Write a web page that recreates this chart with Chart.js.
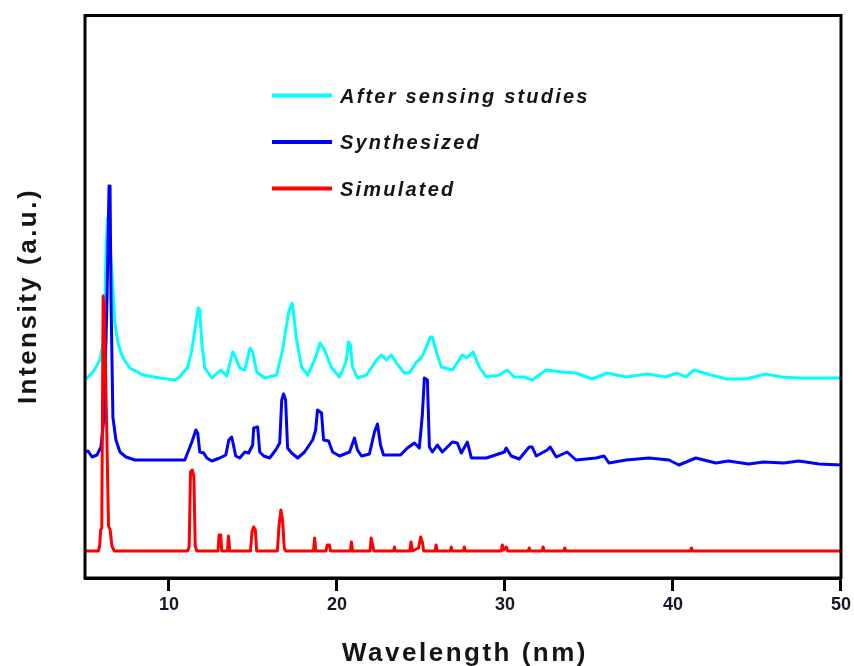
<!DOCTYPE html>
<html><head><meta charset="utf-8">
<script src="https://cdn.jsdelivr.net/npm/chart.js@4.4.1/dist/chart.umd.min.js"></script>
<style>html,body{margin:0;padding:0;background:#fff;}#wrap{width:854px;height:666px;}</style>
</head><body><div id="wrap"><canvas id="c" width="854" height="666"></canvas></div>
<script>
const xTicks = [10, 20, 30, 40, 50];
const seriesLabels = ['After sensing studies', 'Synthesized', 'Simulated'];
const seriesColors = ['#00FFFF', '#0000FF', '#FF0000'];
const xTitle = 'Wavelength (nm)';
const yTitle = 'Intensity (a.u.)';

const afterSensing = [[5.0,198],[5.48,206],[5.89,218],[6.07,235],[6.19,278],[6.25,328],[6.34,360],[6.43,358],[6.52,328],[6.6,306],[6.78,255],[6.96,235],[7.26,220],[7.67,210],[8.45,203],[9.46,200],[10.35,198],[10.64,201],[11.12,211],[11.36,228],[11.54,248],[11.74,270],[11.83,268],[11.95,235],[12.13,210],[12.55,200],[13.08,208],[13.44,202],[13.79,226],[13.97,220],[14.21,210],[14.51,208],[14.83,230],[14.98,226],[15.22,206],[15.7,200],[16.41,203],[16.76,228],[17.12,266],[17.33,275],[17.42,263],[17.6,238],[17.89,211],[18.25,203],[18.67,218],[18.99,235],[19.26,228],[19.68,210],[20.15,201],[20.54,216],[20.69,236],[20.8,233],[20.92,211],[21.22,200],[21.76,203],[22.35,218],[22.65,223],[22.94,218],[23.24,223],[23.54,215],[24.01,205],[24.31,205],[24.73,216],[25.02,220],[25.32,231],[25.56,241],[25.68,241],[25.92,226],[26.21,211],[26.87,208],[27.46,223],[27.7,220],[28.11,226],[28.47,211],[28.89,201],[29.66,203],[30.13,208],[30.55,201],[31.14,201],[31.62,198],[32.45,208],[33.4,206],[34.23,205],[35.18,199],[36.08,205],[37.2,201],[38.45,204],[39.58,201],[40.23,205],[40.77,201],[41.25,208],[42.26,203],[43.21,199],[44.33,199],[45.52,204],[46.47,201],[47.48,200],[50,200]];

const synthesized = [[5.0,126],[5.18,127],[5.42,121],[5.71,123],[5.95,131],[6.13,161],[6.31,278],[6.43,392],[6.49,392],[6.55,278],[6.66,161],[6.84,138],[7.08,126],[7.44,121],[7.97,118],[10.94,118],[11.36,136],[11.6,148],[11.71,145],[11.83,126],[12.07,125],[12.25,120],[12.55,117],[13.02,120],[13.38,123],[13.56,138],[13.73,141],[13.85,132],[13.97,122],[14.21,120],[14.51,126],[14.74,125],[14.98,133],[15.04,150],[15.28,151],[15.4,126],[15.64,122],[15.99,120],[16.35,128],[16.59,135],[16.71,178],[16.82,184],[16.94,178],[17.06,130],[17.3,125],[17.66,120],[18.07,126],[18.55,138],[18.73,148],[18.84,168],[19.08,165],[19.2,138],[19.5,137],[19.74,126],[20.15,122],[20.75,126],[21.04,140],[21.22,128],[21.46,122],[21.93,124],[22.23,146],[22.41,154],[22.59,133],[22.77,123],[23.42,123],[23.78,123],[24.19,130],[24.61,135],[24.9,130],[25.08,163],[25.2,200],[25.38,198],[25.5,131],[25.68,126],[25.97,133],[26.27,126],[26.87,136],[27.16,135],[27.4,125],[27.76,136],[28.0,120],[28.89,120],[29.96,126],[30.07,130],[30.37,122],[30.85,119],[31.44,131],[31.62,131],[31.86,122],[32.51,128],[32.69,131],[33.05,121],[33.7,126],[34.23,118],[35.42,120],[35.9,122],[36.19,115],[37.2,118],[38.57,120],[39.76,118],[40.35,113],[41.36,120],[42.55,115],[43.3,117],[44.5,114],[45.4,116],[46.6,115],[47.5,117],[48.7,114],[50,113]];

const simulated = [[5,27],[5.8,27],[5.88,33],[5.93,48],[6.0,50],[6.08,282],[6.14,272],[6.28,160],[6.4,52],[6.5,48],[6.6,32],[6.75,27],
[11.1,27],[11.2,31],[11.28,106],[11.38,108],[11.48,102],[11.56,32],[11.66,27],
[12.92,27],[12.98,43],[13.08,43],[13.14,27],[13.48,27],[13.54,42],[13.62,27],
[14.85,27],[14.94,46],[15.04,51],[15.14,48],[15.22,27],
[16.45,27],[16.55,52],[16.66,68],[16.76,58],[16.86,30],[16.95,27],
[18.6,27],[18.67,40],[18.74,27],[19.35,27],[19.42,33],[19.55,33],[19.62,27],
[20.8,27],[20.86,36],[20.93,27],[21.97,27],[22.03,40],[22.12,33],[22.2,27],
[23.36,27],[23.42,31],[23.48,27],[24.33,27],[24.41,36],[24.49,27],[24.85,30],[24.98,41],[25.08,36],[25.16,27],
[25.84,27],[25.9,33],[25.96,27],[26.74,27],[26.8,31],[26.86,27],[27.52,27],[27.58,31],[27.64,27],
[29.78,27],[29.84,33],[29.92,28],[30.08,31],[30.16,27],[31.38,27],[31.44,30],[31.5,27],[32.2,27],[32.27,31],[32.34,27],
[33.5,27],[33.56,30],[33.62,27],[41.04,27],[41.1,30],[41.16,27],[50,27]];

const seriesData = [afterSensing, synthesized, simulated];
const toPts = arr => arr.map(p => ({x: p[0], y: p[1]}));

const framePlugin = {
  id: 'frame',
  afterDatasetsDraw(chart) {
    const {ctx, chartArea: a} = chart;
    ctx.save();
    ctx.strokeStyle = '#000';
    ctx.lineWidth = 3;
    ctx.strokeRect(a.left, a.top, a.right - a.left, a.bottom - a.top);
    ctx.restore();
  },
  afterDraw(chart) {
    const ctx = chart.ctx;
    ctx.save();
    ctx.fillStyle = '#151515';
    ctx.font = 'bold 26px "Liberation Sans", Arial, sans-serif';
    ctx.letterSpacing = '2.5px';
    ctx.textAlign = 'center';
    ctx.textBaseline = 'alphabetic';
    ctx.fillText(xTitle, 465, 661);
    ctx.translate(36, 296);
    ctx.rotate(-Math.PI / 2);
    ctx.fillText(yTitle, 0, 0);
    ctx.restore();

    // legend
    const ys = [95.5, 142, 188.5];
    ctx.save();
    chart.data.datasets.forEach((ds, i) => {
      const y = ys[i];
      ctx.strokeStyle = ds.borderColor;
      ctx.lineWidth = 4;
      ctx.beginPath();
      ctx.moveTo(272, y);
      ctx.lineTo(332, y);
      ctx.stroke();
      ctx.fillStyle = '#151515';
      ctx.font = 'italic bold 20px "Liberation Sans", Arial, sans-serif';
      ctx.letterSpacing = '2.2px';
      ctx.textAlign = 'left';
      ctx.textBaseline = 'alphabetic';
      ctx.fillText(ds.label, 340, y + 7);
    });
    ctx.restore();
  }
};

new Chart(document.getElementById('c'), {
  type: 'line',
  data: {
    datasets: seriesData.map((d, i) => ({
      label: seriesLabels[i],
      data: toPts(d),
      borderColor: seriesColors[i],
      backgroundColor: seriesColors[i],
      borderWidth: 3,
      pointRadius: 0,
      tension: 0,
      fill: false,
      borderJoinStyle: 'round',
      order: 3 - i
    }))
  },
  options: {
    responsive: false,
    animation: false,
    devicePixelRatio: 1,
    layout: {padding: {left: 85, right: 11.5, top: 15.5, bottom: 48}},
    plugins: {legend: {display: false}, tooltip: {enabled: false}},
    scales: {
      x: {
        type: 'linear', min: 5, max: 50,
        afterBuildTicks: s => { s.ticks = xTicks.map(v => ({value: v})); },
        afterFit: s => { s.height = 40; },
        grid: {drawOnChartArea: false, drawTicks: true, tickLength: 13, tickWidth: 3, tickColor: '#000'},
        border: {display: true, color: '#000', width: 3},
        ticks: {font: {family: '"Liberation Sans", Arial, sans-serif', size: 18, weight: 'bold'}, color: '#16162a', padding: 3, maxRotation: 0, autoSkip: false}
      },
      y: {type: 'linear', min: 0, max: 562.5, display: false}
    }
  },
  plugins: [framePlugin]
});
</script></body></html>
